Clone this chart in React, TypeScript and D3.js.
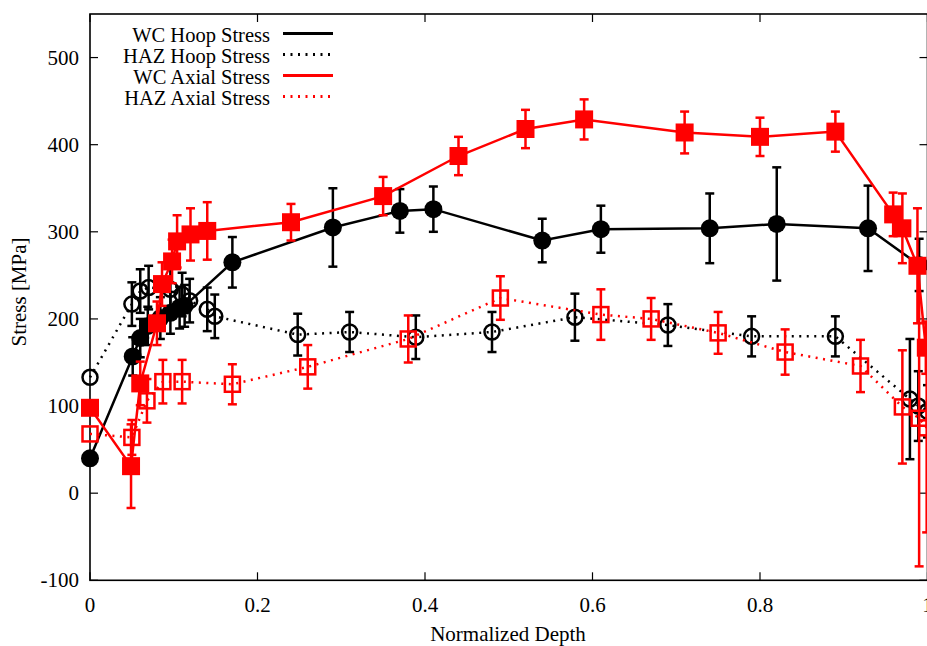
import React from 'react';
import * as d3 from 'd3';

// ---- Data ----
const wcHoopDepth = [0, 0.051, 0.06, 0.069, 0.084, 0.096, 0.107, 0.113, 0.17, 0.29, 0.37, 0.41, 0.54, 0.61, 0.74, 0.82, 0.929, 0.99];
const wcHoopStress = [40, 157, 178, 192, 201, 207, 213, 215, 265, 305, 324, 326, 290, 303, 304, 309, 304, 262];
const wcHoopErr = [0, 22, 22, 22, 24, 24, 24, 24, 29, 45, 25, 26, 25, 27, 40, 65, 49, 30];

const hazHoopDepth = [0, 0.05, 0.06, 0.07, 0.096, 0.11, 0.119, 0.14, 0.149, 0.248, 0.31, 0.389, 0.48, 0.579, 0.69, 0.79, 0.89, 0.979, 0.989, 1.0];
const hazHoopStress = [133, 217, 232, 236, 234, 228, 221, 211, 203, 182, 185, 179, 185, 202, 193, 180, 180, 108, 100, 94];
const hazHoopErr = [0, 25, 25, 25, 25, 25, 25, 25, 25, 24, 23, 25, 23, 27, 24, 23, 23, 69, 40, 30];

const wcAxialDepth = [0, 0.049, 0.06, 0.08, 0.086, 0.098, 0.104, 0.12, 0.14, 0.24, 0.35, 0.44, 0.52, 0.59, 0.71, 0.8, 0.89, 0.959, 0.97, 0.988, 0.998];
const wcAxialStress = [98, 31, 126, 195, 240, 266, 289, 297, 301, 311, 341, 387, 418, 429, 414, 409, 415, 320, 304, 261, 167];
const wcAxialErr = [0, 48, 25, 25, 25, 25, 30, 30, 33, 21, 22, 22, 22, 23, 24, 22, 23, 25, 40, 66, 30];

const hazAxialDepth = [0, 0.05, 0.068, 0.087, 0.11, 0.17, 0.26, 0.38, 0.49, 0.61, 0.67, 0.75, 0.83, 0.92, 0.97, 0.99, 0.999];
const hazAxialStress = [68, 64, 106, 128, 128, 125, 145, 177, 224, 205, 200, 184, 162, 146, 99, 86, 75];
const hazAxialErr = [0, 20, 25, 25, 25, 23, 25, 27, 25, 29, 24, 24, 26, 30, 65, 170, 120];

const xTicks = [0, 0.2, 0.4, 0.6, 0.8, 1];
const xTickLabels = ['0', '0.2', '0.4', '0.6', '0.8', '1'];
const yTicks = [-100, 0, 100, 200, 300, 400, 500];

const legendLabels = ['WC Hoop Stress', 'HAZ Hoop Stress', 'WC Axial Stress', 'HAZ Axial Stress'];

type Series = {
  xs: number[];
  ys: number[];
  es: number[];
  color: string;
  dotted: boolean;
  marker: 'fcircle' | 'ocircle' | 'fsquare' | 'osquare';
};

const series: Series[] = [
  { xs: wcHoopDepth, ys: wcHoopStress, es: wcHoopErr, color: '#000000', dotted: false, marker: 'fcircle' },
  { xs: hazHoopDepth, ys: hazHoopStress, es: hazHoopErr, color: '#000000', dotted: true, marker: 'ocircle' },
  { xs: wcAxialDepth, ys: wcAxialStress, es: wcAxialErr, color: '#ff0000', dotted: false, marker: 'fsquare' },
  { xs: hazAxialDepth, ys: hazAxialStress, es: hazAxialErr, color: '#ff0000', dotted: true, marker: 'osquare' },
];

const FONT = "'Liberation Serif', 'Times New Roman', Times, 'DejaVu Serif', serif";

export default function App() {
  const W = 927;
  const H = 646;
  const left = 90, right = 927.5, top = 14, bottom = 580.3;
  const x = d3.scaleLinear().domain([0, 1]).range([left, right]);
  const y = d3.scaleLinear().domain([-100, 550]).range([bottom, top]);
  const line = d3.line<[number, number]>().x(d => x(d[0])).y(d => y(d[1]));
  const dash = '2,5.5';
  const ts = { fontFamily: FONT };

  const renderMarker = (s: Series, px: number, py: number, key: string) => {
    if (s.marker === 'fcircle') return <circle key={key} cx={px} cy={py} r={9} fill={s.color} />;
    if (s.marker === 'ocircle') return <circle key={key} cx={px} cy={py} r={7.5} fill="none" stroke={s.color} strokeWidth={2.5} />;
    if (s.marker === 'fsquare') return <rect key={key} x={px - 9} y={py - 9} width={18} height={18} fill={s.color} />;
    return <rect key={key} x={px - 7.5} y={py - 7.5} width={15} height={15} fill="none" stroke={s.color} strokeWidth={2.5} />;
  };

  return (
    <svg width={W} height={H} style={{ position: 'absolute', left: 0, top: 0, background: '#fff' }}>
      <rect x={0} y={0} width={W} height={H} fill="#fff" />
      {/* frame */}
      <rect x={left} y={top} width={right - left} height={bottom - top} fill="none" stroke="#000" strokeWidth={1.6} />
      {/* x ticks */}
      {xTicks.map((t, i) => (
        <g key={'xt' + i}>
          <line x1={x(t)} x2={x(t)} y1={bottom} y2={bottom - 8} stroke="#000" strokeWidth={1.2} />
          <line x1={x(t)} x2={x(t)} y1={top} y2={top + 8} stroke="#000" strokeWidth={1.2} />
          <text x={x(t)} y={612} textAnchor="middle" fontSize={21} fill="#000" style={ts}>{xTickLabels[i]}</text>
        </g>
      ))}
      {/* y ticks */}
      {yTicks.map((t, i) => (
        <g key={'yt' + i}>
          <line x1={left} x2={left + 8} y1={y(t)} y2={y(t)} stroke="#000" strokeWidth={1.2} />
          <line x1={right} x2={right - 8} y1={y(t)} y2={y(t)} stroke="#000" strokeWidth={1.2} />
          <text x={79} y={y(t) + 7} textAnchor="end" fontSize={21} fill="#000" style={ts}>{t}</text>
        </g>
      ))}
      {/* axis labels */}
      <text x={508} y={641} textAnchor="middle" fontSize={21} fill="#000" style={ts}>Normalized Depth</text>
      <text transform="translate(26,292) rotate(-90)" textAnchor="middle" fontSize={21} fill="#000" style={ts}>Stress [MPa]</text>

      {/* series */}
      {series.map((s, si) => {
        const pts: [number, number][] = s.xs.map((v, i) => [v, s.ys[i]]);
        return (
          <g key={'s' + si}>
            <path d={line(pts) || ''} fill="none" stroke={s.color} strokeWidth={2.5}
              strokeDasharray={s.dotted ? dash : undefined} />
            {pts.map((p, i) => {
              if (!s.es[i]) return null;
              const px = x(p[0]);
              const y1 = y(p[1] + s.es[i]);
              const y2 = y(p[1] - s.es[i]);
              return (
                <g key={'e' + i} stroke={s.color} strokeWidth={2.5}>
                  <line x1={px} x2={px} y1={y1} y2={y2} />
                  <line x1={px - 4.5} x2={px + 4.5} y1={y1} y2={y1} />
                  <line x1={px - 4.5} x2={px + 4.5} y1={y2} y2={y2} />
                </g>
              );
            })}
            {pts.map((p, i) => renderMarker(s, x(p[0]), y(p[1]), 'm' + i))}
          </g>
        );
      })}

      {/* legend */}
      {legendLabels.map((lab, i) => {
        const s = series[i];
        const ly = 33.5 + i * 21;
        return (
          <g key={'lg' + i}>
            <text x={270} y={ly + 8.5} textAnchor="end" fontSize={20.5} fill="#000" style={ts}>{lab}</text>
            <line x1={283} x2={333} y1={ly} y2={ly} stroke={s.color} strokeWidth={3}
              strokeDasharray={s.dotted ? dash : undefined} />
          </g>
        );
      })}
    </svg>
  );
}
